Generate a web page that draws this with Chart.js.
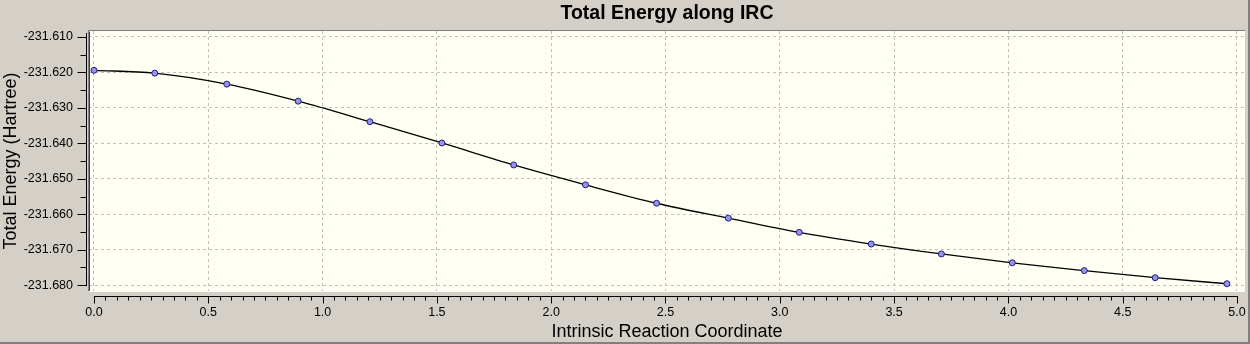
<!DOCTYPE html>
<html>
<head>
  <title>Total Energy along IRC</title>
  <script src="https://cdn.jsdelivr.net/npm/chart.js"></script>
  <style>
    body { margin: 0; background: #d4d0c8; }
    canvas { display: block; }
  </style>
</head>
<body>
  <canvas id="ircChart" width="1250" height="344"></canvas>

  <script>
    // IRC step coordinate and total energy (Hartree)
    const irc = [0.000, 0.266, 0.581, 0.893, 1.207, 1.522, 1.836, 2.150, 2.461,
                 2.775, 3.085, 3.400, 3.707, 4.017, 4.332, 4.642, 4.956];
    const energy = [-231.6194, -231.6202, -231.6233, -231.6281, -231.6339, -231.6399,
                    -231.6461, -231.6517, -231.6569, -231.6611, -231.6651, -231.6684,
                    -231.6712, -231.6737, -231.6759, -231.6779, -231.6796];

    const xTicks = [0.0, 0.5, 1.0, 1.5, 2.0, 2.5, 3.0, 3.5, 4.0, 4.5, 5.0];
    const yTicks = [-231.610, -231.620, -231.630, -231.640, -231.650, -231.660, -231.670, -231.680];
    const xMinorStep = 0.05;
    const yMinorStep = 0.005;

    const points = irc.map((x, i) => ({ x: x, y: energy[i] }));

    // window background, plot background, sunken border, and the detached axes with minor ticks
    const axisDecor = {
      id: 'axisDecor',
      beforeDraw(chart) {
        const ctx = chart.ctx, a = chart.chartArea;
        ctx.save();
        ctx.fillStyle = '#d4d0c8';
        ctx.fillRect(0, 0, chart.width, chart.height);
        ctx.fillStyle = '#fffff4';
        ctx.fillRect(a.left, a.top, a.right - a.left, a.bottom - a.top);
        ctx.restore();
      },
      afterDraw(chart) {
        const ctx = chart.ctx, a = chart.chartArea;
        const xs = chart.scales.x, ys = chart.scales.y;
        ctx.save();
        // plot frame
        ctx.lineWidth = 1;
        ctx.strokeStyle = '#808080';
        ctx.beginPath();
        ctx.moveTo(a.left - 0.5, a.bottom);
        ctx.lineTo(a.left - 0.5, a.top - 0.5);
        ctx.lineTo(a.right, a.top - 0.5);
        ctx.stroke();
        ctx.strokeStyle = '#404040';
        ctx.beginPath();
        ctx.moveTo(a.left + 0.5, a.bottom);
        ctx.lineTo(a.left + 0.5, a.top + 0.5);
        ctx.stroke();
        ctx.strokeStyle = '#ffffff';
        ctx.beginPath();
        ctx.moveTo(a.left, a.bottom + 0.5);
        ctx.lineTo(a.right, a.bottom + 0.5);
        ctx.stroke();

        ctx.strokeStyle = '#000000';
        // y axis
        const yx = Math.round(a.left - 3) + 0.5;
        const yTop = ys.getPixelForValue(yTicks[0]);
        const yBot = ys.getPixelForValue(yTicks[yTicks.length - 1]);
        ctx.beginPath();
        ctx.moveTo(yx, yTop - 4);
        ctx.lineTo(yx, yBot + 1);
        for (let i = 0; i < yTicks.length; i++) {
          const py = Math.round(ys.getPixelForValue(yTicks[i])) + 0.5;
          ctx.moveTo(yx, py);
          ctx.lineTo(yx - 9, py);
          if (i < yTicks.length - 1) {
            const pm = Math.round(ys.getPixelForValue(yTicks[i] - yMinorStep)) + 0.5;
            ctx.moveTo(yx, pm);
            ctx.lineTo(yx - 6, pm);
          }
        }
        ctx.stroke();

        // x axis
        const xy = Math.round(a.bottom + 5) + 0.5;
        const xL = xs.getPixelForValue(xTicks[0]);
        const xR = xs.getPixelForValue(xTicks[xTicks.length - 1]);
        ctx.beginPath();
        ctx.moveTo(xL, xy);
        ctx.lineTo(xR + 1, xy);
        for (let i = 0; i < xTicks.length; i++) {
          const px = Math.round(xs.getPixelForValue(xTicks[i])) + 0.5;
          ctx.moveTo(px, xy);
          ctx.lineTo(px, xy + 7);
          if (i < xTicks.length - 1) {
            for (let k = 1; k < 10; k++) {
              const pm = Math.round(xs.getPixelForValue(xTicks[i] + k * xMinorStep)) + 0.5;
              ctx.moveTo(pm, xy);
              ctx.lineTo(pm, xy + 4);
            }
          }
        }
        ctx.stroke();

        // outer frame
        ctx.strokeStyle = '#808080';
        ctx.lineWidth = 2;
        ctx.beginPath();
        ctx.moveTo(0, chart.height - 1);
        ctx.lineTo(chart.width - 1, chart.height - 1);
        ctx.lineTo(chart.width - 1, 0);
        ctx.stroke();
        ctx.restore();
      }
    };

    const tickFont = { family: 'Liberation Sans', size: 12.5 };
    const titleFont = { family: 'Liberation Sans', size: 18 };

    new Chart(document.getElementById('ircChart'), {
      type: 'scatter',
      data: {
        datasets: [{
          data: points,
          showLine: true,
          borderColor: '#000000',
          borderWidth: 1.3,
          cubicInterpolationMode: 'monotone',
          pointRadius: 3,
          pointBackgroundColor: '#9494e8',
          pointBorderColor: '#20207a',
          pointBorderWidth: 1
        }]
      },
      options: {
        responsive: false,
        animation: false,
        devicePixelRatio: 1,
        layout: { padding: { left: 0, right: 3, top: 0, bottom: 0 } },
        plugins: {
          legend: { display: false },
          tooltip: { enabled: false },
          title: {
            display: true,
            fullSize: false,
            text: 'Total Energy along IRC',
            color: '#000000',
            font: { family: 'Liberation Sans', size: 19.5, weight: 'bold' },
            padding: { top: 2, bottom: 5.6 }
          }
        },
        scales: {
          x: {
            type: 'linear',
            min: -0.0218,
            max: 5.035,
            afterBuildTicks: s => { s.ticks = xTicks.map(v => ({ value: v })); },
            afterFit: s => { s.height = 53; s.paddingLeft = 0; s.paddingRight = 0; },
            grid: { color: '#c0c0c0', drawTicks: false },
            border: { display: false, dash: [3, 3] },
            ticks: {
              color: '#000000',
              font: tickFont,
              padding: 14,
              autoSkip: false,
              maxRotation: 0,
              callback: v => Number(v).toFixed(1)
            },
            title: {
              display: true,
              text: 'Intrinsic Reaction Coordinate',
              color: '#000000',
              font: titleFont,
              padding: { top: 0, bottom: 1.2 }
            }
          },
          y: {
            type: 'linear',
            min: -231.68165,
            max: -231.60831,
            afterBuildTicks: s => { s.ticks = yTicks.map(v => ({ value: v })); },
            afterFit: s => { s.width = 89; s.paddingTop = 0; s.paddingBottom = 0; },
            grid: { color: '#c0c0c0', drawTicks: false },
            border: { display: false, dash: [3, 3] },
            ticks: {
              color: '#000000',
              font: tickFont,
              padding: 16,
              autoSkip: false,
              callback: v => Number(v).toFixed(3)
            },
            title: {
              display: true,
              text: 'Total Energy (Hartree)',
              color: '#000000',
              font: titleFont,
              padding: { top: 0, bottom: 0 }
            }
          }
        }
      },
      plugins: [axisDecor]
    });
  </script>
</body>
</html>
